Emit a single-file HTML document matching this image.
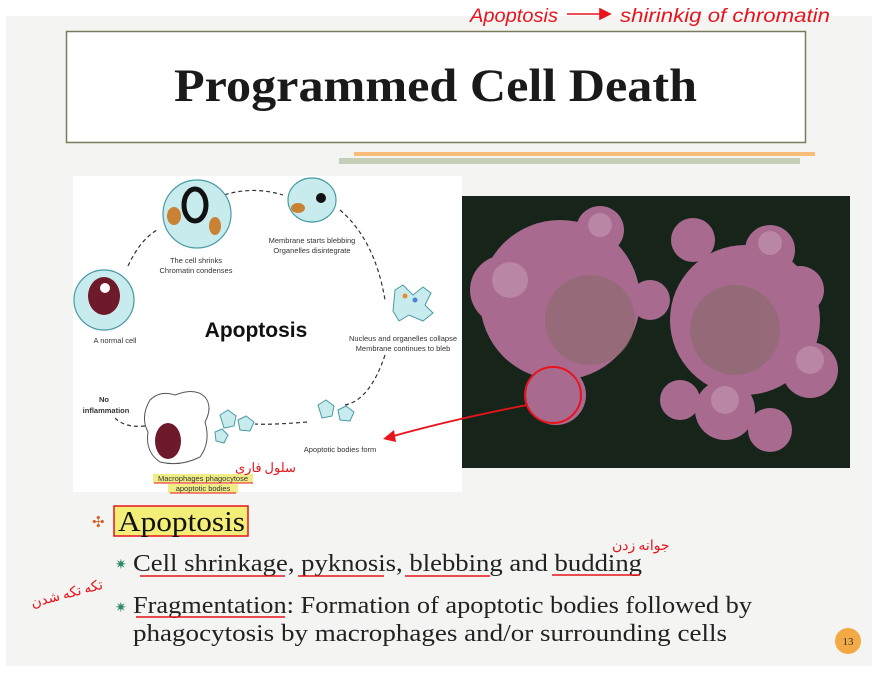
<!DOCTYPE html>
<html><head><meta charset="utf-8"><style>
html,body{margin:0;padding:0;background:#fff;width:880px;height:680px;overflow:hidden}
svg{display:block}
</style></head><body>
<svg width="880" height="680" viewBox="0 0 880 680" xmlns="http://www.w3.org/2000/svg" font-family="Liberation Sans, sans-serif">
<rect x="0" y="0" width="880" height="680" fill="#fff"/>
<rect x="6" y="16" width="866" height="650" fill="#f4f4f3"/>
<g fill="none" stroke="#e8141c" stroke-width="1.6">
<text x="470" y="22" font-size="19" fill="#e8141c" stroke="none" font-style="italic" textLength="88" lengthAdjust="spacingAndGlyphs">Apoptosis</text>
<line x1="567" y1="14" x2="603" y2="14"/>
<path d="M600 9 L610 14 L600 19Z" fill="#e8141c"/>
<text x="620" y="22" font-size="19" fill="#e8141c" stroke="none" font-style="italic" textLength="210" lengthAdjust="spacingAndGlyphs">shirinkig of chromatin</text>
</g>
<rect x="66.5" y="31.5" width="739" height="111" fill="#fff" stroke="#7b7b5c" stroke-width="1.5"/>
<text x="174" y="101" font-family="Liberation Serif, serif" font-weight="bold" font-size="47" fill="#1a1a1a" textLength="523" lengthAdjust="spacingAndGlyphs">Programmed Cell Death</text>
<rect x="354" y="152" width="461" height="4" fill="#f7bd79"/>
<rect x="339" y="158" width="461" height="6" fill="#c5cfb8"/>
<rect x="73" y="176" width="389" height="316" fill="#fff"/>
<g stroke="#333" stroke-width="1.2" stroke-dasharray="4 3" fill="none">
<path d="M128 266 Q140 240 157 230"/>
<path d="M218 197 Q250 185 283 195"/>
<path d="M340 210 Q375 240 385 300"/>
<path d="M385 355 Q370 400 345 405"/>
<path d="M307 422 Q270 425 255 424"/>
<path d="M145 426 Q125 428 115 418"/>
</g>
<circle cx="104" cy="300" r="30" fill="#c8ecee" stroke="#4a9aa5" stroke-width="1.2"/>
<ellipse cx="104" cy="296" rx="16" ry="19" fill="#6e1a2a"/>
<circle cx="105" cy="288" r="5" fill="#fff"/>
<circle cx="197" cy="214" r="34" fill="#c8ecee" stroke="#4a9aa5" stroke-width="1.2"/>
<ellipse cx="195" cy="205" rx="11" ry="16" fill="none" stroke="#111" stroke-width="5"/>
<ellipse cx="174" cy="216" rx="7" ry="9" fill="#c98133"/>
<ellipse cx="215" cy="226" rx="6" ry="9" fill="#c98133"/>
<ellipse cx="312" cy="200" rx="24" ry="22" fill="#c8ecee" stroke="#4a9aa5" stroke-width="1.2"/>
<circle cx="321" cy="198" r="5" fill="#111"/>
<ellipse cx="298" cy="208" rx="7" ry="5" fill="#c98133"/>
<path d="M395 290 l8 -5 l10 10 l10 -8 l8 6 l-6 12 l8 8 l-10 8 l-14 -6 l-10 6 l-6 -10z" fill="#c8ecee" stroke="#4a9aa5"/>
<circle cx="405" cy="296" r="2.5" fill="#e58c3a"/><circle cx="415" cy="300" r="2.5" fill="#4d7fd4"/>
<g fill="#c8ecee" stroke="#4a9aa5">
<path d="M318 405 l8 -5 l8 6 l-2 10 l-10 2z"/><path d="M338 410 l8 -4 l8 6 l-4 9 l-10 -1z"/>
<path d="M220 415 l8 -5 l8 6 l-2 10 l-10 2z"/><path d="M238 420 l8 -4 l8 6 l-4 9 l-10 -1z"/><path d="M215 432 l7 -3 l6 6 l-4 8 l-8 -2z"/>
</g>
<path d="M150 400 q10 -10 25 -5 q20 -8 30 2 q8 10 0 25 q6 20 -5 35 q-20 10 -40 5 q-15 -10 -12 -30 q-8 -15 2 -32z" fill="#fff" stroke="#555" stroke-width="1"/>
<ellipse cx="168" cy="441" rx="13" ry="18" fill="#6e1a2a"/>
<g fill="#333" font-size="7.5" text-anchor="middle">
<text x="115" y="343">A normal cell</text>
<text x="196" y="263">The cell shrinks</text><text x="196" y="273">Chromatin condenses</text>
<text x="312" y="243">Membrane starts blebbing</text><text x="312" y="253">Organelles disintegrate</text>
<text x="403" y="341">Nucleus and organelles collapse</text><text x="403" y="351">Membrane continues to bleb</text>
<text x="340" y="452">Apoptotic bodies form</text>
<text x="104" y="402" font-weight="bold">No</text><text x="106" y="413" font-weight="bold">inflammation</text>
</g>
<text x="256" y="337" text-anchor="middle" font-size="21" font-weight="bold" fill="#111">Apoptosis</text>
<rect x="153" y="474" width="100" height="9" fill="#f1ed86"/><rect x="168" y="484" width="70" height="9" fill="#f1ed86"/>
<g fill="#333" font-size="7.5" text-anchor="middle"><text x="203" y="481">Macrophages phagocytose</text><text x="203" y="491">apoptotic bodies</text></g>
<line x1="154" y1="483" x2="253" y2="483" stroke="#e8141c" stroke-width="1"/>
<line x1="170" y1="493" x2="236" y2="493" stroke="#e8141c" stroke-width="1"/>
<text x="235" y="472" font-family="Noto Sans CJK SC, sans-serif" font-size="13" fill="#e8141c">سلول فاری</text>
<rect x="462" y="196" width="388" height="272" fill="#17241a"/>
<g fill="#a86a8f">
<circle cx="560" cy="300" r="80"/><circle cx="745" cy="320" r="75"/>
<circle cx="505" cy="290" r="35"/><circle cx="556" cy="395" r="30"/><circle cx="600" cy="230" r="24"/>
<circle cx="693" cy="240" r="22"/><circle cx="770" cy="250" r="25"/><circle cx="800" cy="290" r="24"/>
<circle cx="810" cy="370" r="28"/><circle cx="725" cy="410" r="30"/><circle cx="770" cy="430" r="22"/>
<circle cx="680" cy="400" r="20"/><circle cx="650" cy="300" r="20"/>
</g>
<g fill="#c69ab4" opacity="0.6"><circle cx="510" cy="280" r="18"/><circle cx="600" cy="225" r="12"/><circle cx="770" cy="243" r="12"/><circle cx="810" cy="360" r="14"/><circle cx="725" cy="400" r="14"/></g>
<g fill="#8a6a6a" opacity="0.6"><circle cx="590" cy="320" r="45"/><circle cx="735" cy="330" r="45"/></g>
<circle cx="553" cy="395" r="28" fill="none" stroke="#e8141c" stroke-width="2"/>
<path d="M527 405 Q450 420 390 437" fill="none" stroke="#e8141c" stroke-width="1.8"/>
<path d="M383 439 L394 430 L396 442Z" fill="#e8141c"/>
<text x="92" y="527" font-size="15" fill="#d9632b">✣</text>
<rect x="114" y="506" width="134" height="30" fill="#f2ee78" stroke="#e8141c" stroke-width="1.5"/>
<text x="118" y="531" font-family="Liberation Serif, serif" font-size="28" fill="#111" textLength="127" lengthAdjust="spacingAndGlyphs">Apoptosis</text>
<g font-family="Liberation Serif, serif" font-size="24" fill="#222">
<text x="115" y="569" font-size="14" fill="#2f8a6a">✷</text>
<text x="133" y="571" textLength="509" lengthAdjust="spacingAndGlyphs">Cell shrinkage, pyknosis, blebbing and budding</text>
<text x="115" y="612" font-size="14" fill="#2f8a6a">✷</text>
<text x="133" y="613" textLength="619" lengthAdjust="spacingAndGlyphs">Fragmentation: Formation of apoptotic bodies followed by</text>
<text x="133" y="641" textLength="594" lengthAdjust="spacingAndGlyphs">phagocytosis by macrophages and/or surrounding cells</text>
</g>
<g stroke="#e8141c" stroke-width="1.4" fill="none">
<line x1="140" y1="576" x2="285" y2="576"/><line x1="298" y1="576" x2="384" y2="576"/>
<line x1="405" y1="576" x2="490" y2="576"/><line x1="552" y1="575" x2="640" y2="575"/>
<line x1="136" y1="617" x2="285" y2="617"/>
</g>
<text x="612" y="550" font-family="Noto Sans CJK SC, sans-serif" font-size="14" fill="#e8141c">جوانه زدن</text>
<text x="30" y="600" font-family="Noto Sans CJK SC, sans-serif" font-size="14" fill="#e8141c" transform="rotate(-15 60 595)">تکه تکه شدن</text>
<circle cx="848" cy="641" r="13" fill="#f3a944"/>
<text x="848" y="645" text-anchor="middle" font-family="Liberation Serif, serif" font-size="11" fill="#333">13</text>
</svg>
</body></html>
